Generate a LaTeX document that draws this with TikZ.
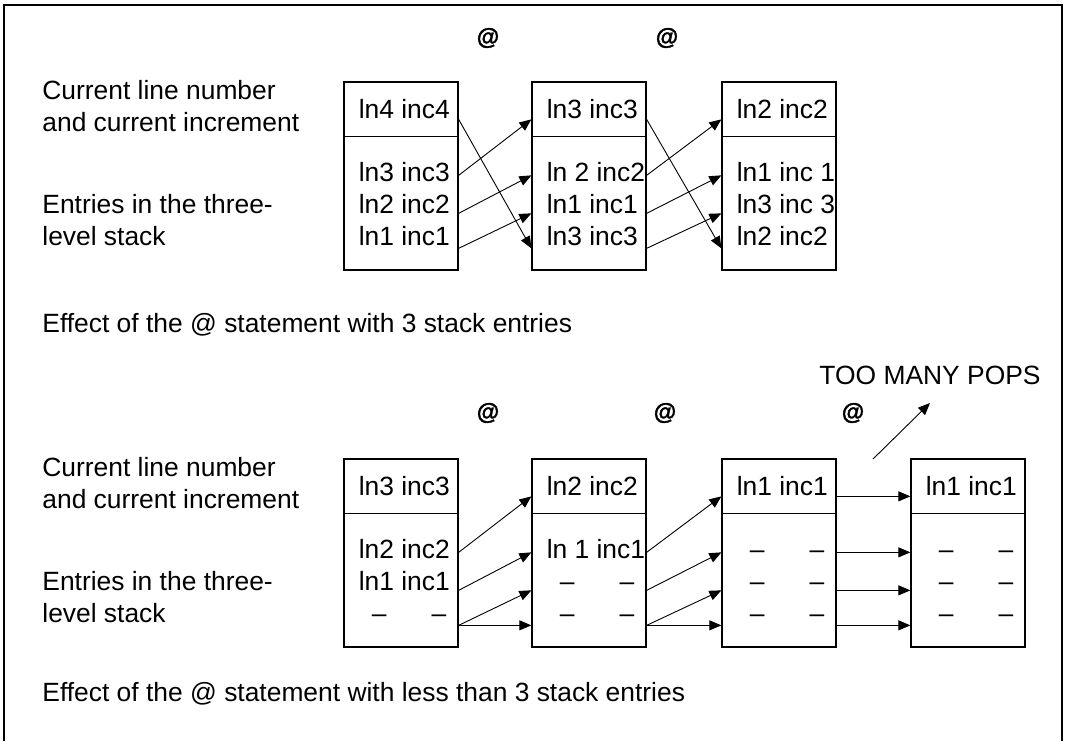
\documentclass[tikz,border=0pt]{standalone}
\usepackage{fontspec}
\setmainfont{Liberation Sans}
\usetikzlibrary{arrows.meta,calc}
\tikzstyle{stackbox}=[draw,line width=0.65pt,minimum width=57pt,minimum height=94pt,inner sep=0pt]
\tikzstyle{entry}=[anchor=west,inner sep=0pt,align=left]
\tikzstyle{caption}=[anchor=west,inner sep=0pt,align=left]
\tikzstyle{atsign}=[font=\fontsize{11.5}{13}\selectfont\bfseries\addfontfeatures{FakeBold=1.5},inner sep=0pt]
\tikzstyle{move}=[draw,line width=0.45pt,-{Triangle[length=6pt,width=5pt]}]
\newcommand{\nilrow}{\vphantom{ln}\hspace*{0.5em}\textendash\hspace{1.7em}\textendash}

\begin{document}
\begin{tikzpicture}[x=0.5pt,y=-0.5pt,font=\fontsize{13.2}{16}\selectfont]
\useasboundingbox (0,0) rectangle (1067,741);
\draw[line width=0.65pt] (4,741) -- (4,5) -- (1062,5) -- (1062,741);

    \def\dy{377}; % lower part sits this far below the upper one

    % stacks
    \foreach \pos/\name in {{(401,176)/a1},{(589,176)/a2},{(779,176)/a3},
        {(401,176+\dy)/b1},{(589,176+\dy)/b2},{(779,176+\dy)/b3},{(968,176+\dy)/b4}}
        \node[stackbox] (\name) at \pos {};

    \foreach \name in {a1,a2,a3,b1,b2,b3,b4} {
        \draw[line width=0.65pt] ($(\name.north west)+(0,55)$) -- ($(\name.north east)+(0,55)$);
        \foreach \i/\off in {0/38,1/94,2/132,3/167} {
            \coordinate (\name-w\i) at ($(\name.north west)+(0,\off)$);
            \coordinate (\name-e\i) at ($(\name.north east)+(0,\off)$);
        }
    }

    % contents
    \foreach \name/\head/\rows in {a1/{ln4 inc4}/{ln3 inc3\\ln2 inc2\\ln1 inc1},
        a2/{ln3 inc3}/{ln 2 inc2\\ln1 inc1\\ln3 inc3},
        a3/{ln2 inc2}/{ln1 inc 1\\ln3 inc 3\\ln2 inc2},
        b1/{ln3 inc3}/{ln2 inc2\\ln1 inc1\\\nilrow},
        b2/{ln2 inc2}/{ln 1 inc1\\\nilrow\\\nilrow},
        b3/{ln1 inc1}/{\nilrow\\\nilrow\\\nilrow},
        b4/{ln1 inc1}/{\nilrow\\\nilrow\\\nilrow}} {
        \node[entry] (\name-top) at ($(\name.north west)+(15,28)$) {\head};
        \node[entry] (\name-rows) at ($(\name.north west)+(15,123)$) {\rows};
    }

    % moves
    \foreach \s/\d in {a1/a2,a2/a3}
        \foreach \i/\j in {1/0,2/1,3/2,0/3}
            \path[move] (\s-e\i) -- (\d-w\j);
    \foreach \s/\d in {b1/b2,b2/b3}
        \foreach \i/\j in {1/0,2/1,3/2,3/3}
            \path[move] (\s-e\i) -- (\d-w\j);
    \foreach \i in {0,...,3}
        \path[move] (b3-e\i) -- (b4-w\i);

    % @ marks
    \foreach \pos/\name in {{(488,38)/at1},{(667,38)/at2},{(488,413)/at3},{(665,413)/at4},{(853,413)/at5}}
        \node[atsign] (\name) at \pos {@};

    \node[] (pops) at (930,375) {TOO MANY POPS};
    \coordinate (popfoot) at (873,459);
    \coordinate (poptip) at (930,403);
    \path[move] (popfoot) -- (poptip);

% Labels
\foreach \off/\name in {0/u,\dy/l} {
    \node[caption] (head-\name) at (42,106+\off) {Current line number\\and current increment};
    \node[caption] (stack-\name) at (42,220+\off) {Entries in the three-\\level stack};
}
\node[caption] (effect-u) at (42,325) {Effect of the @ statement with 3 stack entries};
\node[caption] (effect-l) at (42,694) {Effect of the @ statement with less than 3 stack entries};

\end{tikzpicture}
\end{document}
